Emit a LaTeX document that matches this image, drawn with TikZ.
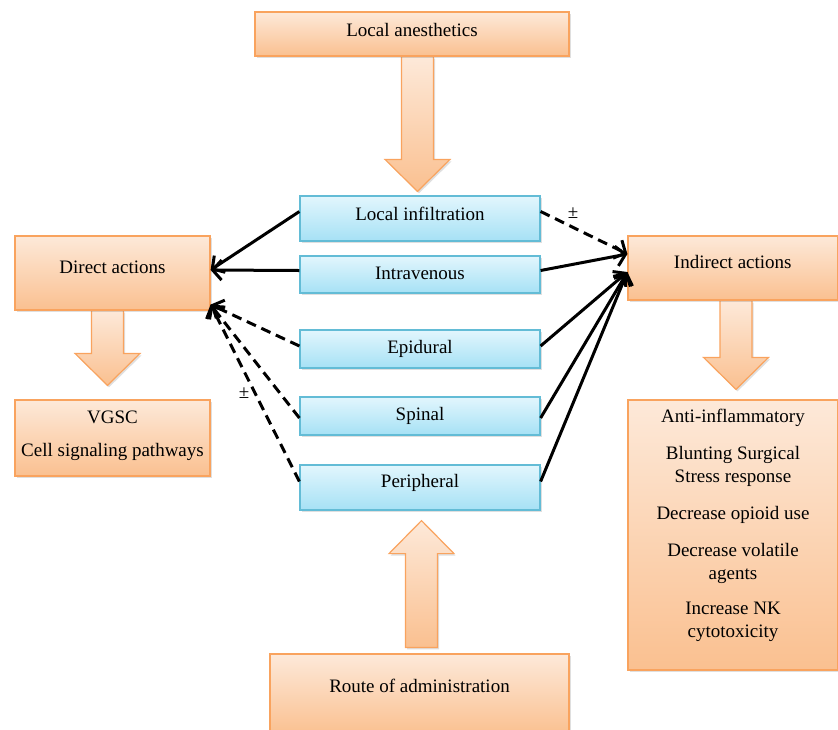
\documentclass[tikz,border=0pt]{standalone}
\usepackage{fontspec}
\setmainfont{Liberation Serif}
\usetikzlibrary{shadows,calc,arrows.meta}
\definecolor{otop}{HTML}{FDE9D9}
\definecolor{obot}{HTML}{FAC090}
\definecolor{oline}{HTML}{F9A35E}
\definecolor{btop}{HTML}{E2F6FD}
\definecolor{bbot}{HTML}{A6E1F5}
\definecolor{bline}{HTML}{63BCD6}
\pgfdeclarelayer{background}
\pgfsetlayers{background,main}
\tikzset{
  shd/.style={drop shadow={opacity=0.25,shadow xshift=1.5pt,shadow yshift=-2pt}},
  obox/.style={draw=oline, line width=1.2pt, top color=otop, bottom color=obot, shd, inner sep=0pt},
  bbox/.style={draw=bline, line width=1.2pt, top color=btop, bottom color=bbot, shd, inner sep=0pt, minimum width=240pt},
  lbl/.style={font=\fontsize{19}{23}\selectfont, align=center, inner sep=0pt},
  pmlbl/.style={font=\fontsize{19}{21}\selectfont, inner sep=0pt},
  barrow/.style={draw=oline, line width=1.2pt, top color=otop, bottom color=obot, shd},
  conn/.style={line width=3pt, -{Straight Barb[length=9pt,width=20pt]}},
  dconn/.style={conn, dash pattern=on 10pt off 6pt},
}
\newcommand{\blockdown}[2]{\path[barrow] let \p1=#1, \p2=#2 in
  (\x2-16pt,\y1) -- (\x2-16pt,\y2+32pt) -- (\x2-32.5pt,\y2+32pt) -- (\x2,\y2)
  -- (\x2+32.5pt,\y2+32pt) -- (\x2+16pt,\y2+32pt) -- (\x2+16pt,\y1) -- cycle;}
\newcommand{\blockup}[2]{\path[barrow] let \p1=#1, \p2=#2 in
  (\x2-16pt,\y1) -- (\x2-16pt,\y2-33pt) -- (\x2-32.5pt,\y2-33pt) -- (\x2,\y2)
  -- (\x2+32.5pt,\y2-33pt) -- (\x2+16pt,\y2-33pt) -- (\x2+16pt,\y1) -- cycle;}
\begin{document}
\begin{tikzpicture}[x=1pt,y=-1pt]
\useasboundingbox (0,0) rectangle (838,729);
% orange boxes
\node[obox, minimum width=314pt, minimum height=44pt] (la) at (412,34) {};
\node[lbl] (lat) at (412,30) {Local anesthetics};
\node[obox, minimum width=195pt, minimum height=74pt] (da) at (112.5,273) {};
\node[lbl] (dat) at (112.5,267) {Direct actions};
\node[obox, minimum width=195pt, minimum height=76pt] (vg) at (112.5,438) {};
\node[lbl] (vgt) at (112.5,435.5) {VGSC\\[10pt]Cell signaling pathways};
\node[obox, minimum width=209.5pt, minimum height=64pt] (ia) at (732.75,268) {};
\node[lbl] (iat) at (732.75,262) {Indirect actions};
\node[obox, minimum width=209.5pt, minimum height=270pt] (rl) at (732.75,535) {};
\node[lbl] (rlt) at (733,525.5) {Anti-inflammatory\\[14pt]Blunting Surgical\\Stress response\\[14pt]Decrease opioid use\\[14pt]Decrease volatile\\agents\\[12pt]Increase NK\\cytotoxicity};
\node[obox, minimum width=299pt, minimum height=81pt] (ro) at (419.5,694.5) {};
\node[lbl] (rot) at (419.5,686) {Route of administration};
% blue boxes
\node[bbox, minimum height=45pt] (li) at (420,218.5) {};
\node[lbl] (lit) at (420,214) {Local infiltration};
\node[bbox, minimum height=37pt] (iv) at (420,274.5) {};
\node[lbl] (ivt) at (420,273) {Intravenous};
\node[bbox, minimum height=38pt] (ep) at (420,349) {};
\node[lbl] (ept) at (420,349) {Epidural};
\node[bbox, minimum height=38pt] (sp) at (420,416) {};
\node[lbl] (spt) at (420,416) {Spinal};
\node[bbox, minimum height=45pt] (pe) at (420,487.5) {};
\node[lbl] (pet) at (420,483) {Peripheral};
% block arrows
\begin{pgfonlayer}{background}
\blockdown{([xshift=5.5pt]la.south)}{([xshift=-2.5pt,yshift=4pt]li.north)}
\blockdown{(da.south)}{([xshift=-5pt,yshift=14pt]vg.north)}
\blockdown{(ia.south)}{([xshift=3.25pt,yshift=10pt]rl.north)}
\blockup{([yshift=6pt]ro.north)}{([xshift=1.5pt,yshift=-10pt]pe.south)}
\end{pgfonlayer}
% connectors
\draw[conn] ([yshift=7pt]li.west) -- ([yshift=3pt]da.east);
\draw[conn] ([yshift=4pt]iv.west) -- ([yshift=3pt]da.east);
\draw[dconn] ([yshift=3pt]ep.west) -- ([yshift=6pt]da.south east);
\draw[dconn] ([yshift=-2pt]sp.west) -- ([yshift=6pt]da.south east);
\draw[dconn] ([yshift=6pt]pe.west) -- ([yshift=6pt]da.south east);
\draw[dconn] ([yshift=7pt]li.east) -- ([yshift=14pt]ia.west);
\draw[conn] ([yshift=4pt]iv.east) -- ([yshift=14pt]ia.west);
\draw[conn] ([yshift=3pt]ep.east) -- ([yshift=-4pt]ia.west);
\draw[conn] ([yshift=-2pt]sp.east) -- ([yshift=-4pt]ia.west);
\draw[conn] ([yshift=6pt]pe.east) -- ([yshift=-4pt]ia.west);
\node[pmlbl] (pm1) at (573,213) {±};
\node[pmlbl] (pm2) at (244,393) {±};
\end{tikzpicture}
\end{document}
